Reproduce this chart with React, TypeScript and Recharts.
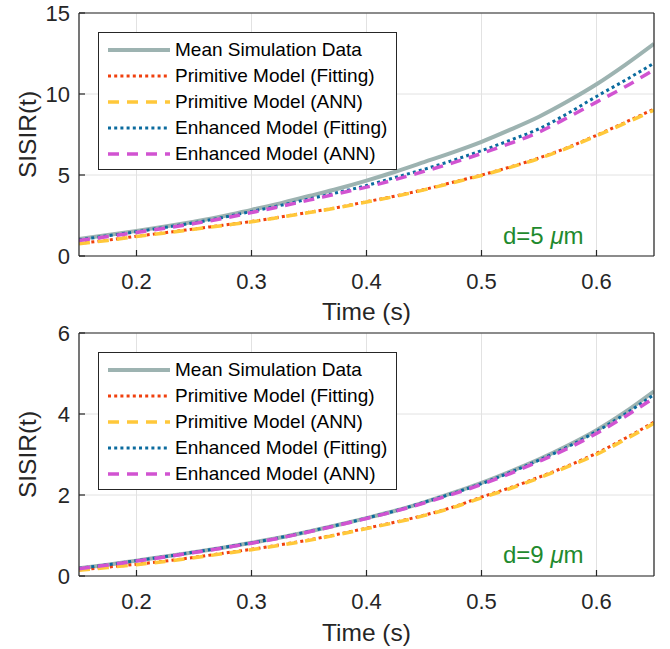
import React from 'react';
import { LineChart, Line, XAxis, YAxis, CartesianGrid, Legend } from 'recharts';

// time axis (s)
const TIME = [0.15, 0.175, 0.2, 0.225, 0.25, 0.275, 0.3, 0.325, 0.35, 0.375, 0.4,
  0.425, 0.45, 0.475, 0.5, 0.525, 0.55, 0.575, 0.6, 0.625, 0.65];

// d = 5 um
const MEAN_D5 = [1.05, 1.3, 1.55, 1.82, 2.12, 2.45, 2.85, 3.25, 3.7, 4.15, 4.65, 5.2, 5.8, 6.4, 7.05, 7.8, 8.6, 9.55, 10.6, 11.8, 13.1];
const PRIM_FIT_D5 = [0.78, 0.98, 1.22, 1.44, 1.67, 1.9, 2.13, 2.41, 2.7, 3.0, 3.35, 3.7, 4.1, 4.55, 5.0, 5.5, 6.05, 6.7, 7.45, 8.25, 9.07];
const PRIM_ANN_D5 = [0.76, 0.96, 1.2, 1.42, 1.65, 1.88, 2.11, 2.39, 2.68, 2.98, 3.33, 3.68, 4.08, 4.52, 4.97, 5.47, 6.02, 6.67, 7.42, 8.2, 9.0];
const ENH_FIT_D5 = [1.0, 1.25, 1.5, 1.77, 2.05, 2.38, 2.75, 3.12, 3.52, 3.92, 4.35, 4.85, 5.35, 5.9, 6.5, 7.15, 7.85, 8.8, 9.85, 10.85, 11.9];
const ENH_ANN_D5 = [0.95, 1.2, 1.45, 1.72, 2.0, 2.32, 2.68, 3.05, 3.45, 3.85, 4.25, 4.72, 5.22, 5.75, 6.33, 6.95, 7.65, 8.55, 9.5, 10.45, 11.5];

// d = 9 um
const MEAN_D9 = [0.19, 0.28, 0.38, 0.48, 0.59, 0.7, 0.82, 0.95, 1.1, 1.26, 1.43, 1.61, 1.82, 2.05, 2.3, 2.58, 2.88, 3.22, 3.6, 4.05, 4.56];
const PRIM_FIT_D9 = [0.15, 0.22, 0.29, 0.37, 0.46, 0.56, 0.66, 0.77, 0.89, 1.03, 1.18, 1.33, 1.5, 1.7, 1.95, 2.18, 2.44, 2.72, 3.03, 3.4, 3.8];
const PRIM_ANN_D9 = [0.14, 0.21, 0.28, 0.36, 0.45, 0.55, 0.65, 0.76, 0.88, 1.02, 1.17, 1.32, 1.49, 1.69, 1.93, 2.16, 2.42, 2.7, 3.0, 3.37, 3.77];
const ENH_FIT_D9 = [0.19, 0.28, 0.38, 0.48, 0.59, 0.7, 0.82, 0.95, 1.1, 1.26, 1.43, 1.61, 1.82, 2.04, 2.28, 2.56, 2.86, 3.19, 3.57, 4.0, 4.48];
const ENH_ANN_D9 = [0.18, 0.27, 0.37, 0.47, 0.58, 0.69, 0.81, 0.94, 1.09, 1.25, 1.42, 1.6, 1.8, 2.02, 2.26, 2.53, 2.83, 3.15, 3.52, 3.94, 4.4];

const X_TICKS = [0.2, 0.3, 0.4, 0.5, 0.6];
const Y_TICKS_D5 = [0, 5, 10, 15];
const Y_TICKS_D9 = [0, 2, 4, 6];

/* draw order = legend order */
const SERIES = [
  { key: 'mean', name: 'Mean Simulation Data', color: '#9db3b1', width: 4, dash: undefined },
  { key: 'primFit', name: 'Primitive Model (Fitting)', color: '#f0400e', width: 3, dash: '3 3.2' },
  { key: 'primAnn', name: 'Primitive Model (ANN)', color: '#ffc83a', width: 3.5, dash: '11 8' },
  { key: 'enhFit', name: 'Enhanced Model (Fitting)', color: '#0b6b9e', width: 3, dash: '3 3.2' },
  { key: 'enhAnn', name: 'Enhanced Model (ANN)', color: '#d153d1', width: 3.5, dash: '11 8' },
];

const AX = '#262626';
const FONT = '"Liberation Sans", Arial, Helvetica, sans-serif';
const TICK_FS = 22;

function buildRows(mean: number[], pf: number[], pa: number[], ef: number[], ea: number[]) {
  return TIME.map((t, i) => ({ t, mean: mean[i], primFit: pf[i], primAnn: pa[i], enhFit: ef[i], enhAnn: ea[i] }));
}

const ROWS_D5 = buildRows(MEAN_D5, PRIM_FIT_D5, PRIM_ANN_D5, ENH_FIT_D5, ENH_ANN_D5);
const ROWS_D9 = buildRows(MEAN_D9, PRIM_FIT_D9, PRIM_ANN_D9, ENH_FIT_D9, ENH_ANN_D9);

// tick texts drawn by hand so the size sticks
const XTick = (p: any) => (
  <text x={p.x} y={p.y} dy="0.71em" textAnchor="middle" fill={AX} fontSize={TICK_FS}>
    {String(p.payload.value)}
  </text>
);
const YTick = (p: any) => (
  <text x={p.x} y={p.y} dy="0.355em" textAnchor="end" fill={AX} fontSize={TICK_FS}>
    {String(p.payload.value)}
  </text>
);

function LegendBox() {
  return (
    <div style={{
      width: 297, height: 136, border: `1.5px solid ${AX}`, background: '#fff',
      position: 'relative', fontFamily: FONT,
    }}>
      {SERIES.map((s, i) => (
        <div key={s.key} style={{ position: 'absolute', left: 0, top: 4 + i * 26, height: 26, display: 'flex', alignItems: 'center' }}>
          <svg width={76} height={26} style={{ display: 'block' }}>
            <line x1={9} x2={71} y1={13} y2={13} stroke={s.color} strokeWidth={s.width} strokeDasharray={s.dash} />
          </svg>
          <span style={{ fontSize: 19, color: '#000', whiteSpace: 'nowrap' }}>{s.name}</span>
        </div>
      ))}
    </div>
  );
}

interface PanelProps {
  rows: typeof ROWS_D5;
  yTicks: number[];
  height: number;
  marginTop: number;
  xAxisHeight: number;
  xLabelDy: number;
  legendTop: number;
}

function Panel({ rows, yTicks, height, marginTop, xAxisHeight, xLabelDy, legendTop }: PanelProps) {
  const yMax = yTicks[yTicks.length - 1];
  return (
    <LineChart width={670} height={height} data={rows} margin={{ top: marginTop, right: 15, left: 0, bottom: 0 }}>
      <CartesianGrid stroke="#e2e2e2" strokeWidth={1} />
      <XAxis
        dataKey="t" type="number" domain={[0.15, 0.65]} ticks={X_TICKS} allowDataOverflow
        height={xAxisHeight} stroke={AX} strokeWidth={1.2} tickSize={-6} tickMargin={23.5}
        tick={XTick}
        label={{ value: 'Time (s)', position: 'center', dy: xLabelDy, fill: AX, fontSize: 24.5 }}
      />
      <XAxis
        xAxisId="top" orientation="top" type="number" domain={[0.15, 0.65]} ticks={X_TICKS}
        height={1} stroke={AX} strokeWidth={1.2} tickSize={-6} tick={false}
      />
      <YAxis
        type="number" domain={[0, yMax]} ticks={yTicks} allowDataOverflow
        width={79} stroke={AX} strokeWidth={1.2} tickSize={-6} tickMargin={15} tick={YTick}
        label={{ value: 'SISIR(t)', angle: -90, position: 'center', dx: -12.5, fill: AX, fontSize: 24.5 }}
      />
      <YAxis
        yAxisId="right" orientation="right" type="number" domain={[0, yMax]} ticks={yTicks}
        width={1} stroke={AX} strokeWidth={1.2} tickSize={-6} tick={false}
      />
      <Legend
        layout="horizontal" verticalAlign="middle" align="center"
        wrapperStyle={{ left: 98, top: legendTop, width: 300, height: 139 }}
        content={() => <LegendBox />}
      />
      {SERIES.map((s) => (
        <Line
          key={s.key} type="monotone" dataKey={s.key} name={s.name}
          stroke={s.color} strokeWidth={s.width} strokeDasharray={s.dash}
          dot={false} activeDot={false} isAnimationActive={false}
        />
      ))}
    </LineChart>
  );
}

const NOTE_STYLE: React.CSSProperties = {
  position: 'absolute', left: 503, fontSize: 24, lineHeight: 1, color: '#1f8a2e',
  fontFamily: FONT, whiteSpace: 'nowrap',
};

export default function App() {
  return (
    <div style={{ position: 'absolute', left: 0, top: 0, width: 670, height: 649, background: '#fff', fontFamily: FONT }}>
      <div style={{ position: 'absolute', left: 0, top: 0 }}>
        <Panel rows={ROWS_D5} yTicks={Y_TICKS_D5} height={330} marginTop={12} xAxisHeight={74} xLabelDy={18.5} legendTop={32} />
      </div>
      <div style={{ position: 'absolute', left: 0, top: 322 }}>
        <Panel rows={ROWS_D9} yTicks={Y_TICKS_D9} height={327} marginTop={10} xAxisHeight={73} xLabelDy={19.5} legendTop={30} />
      </div>
      <div style={{ ...NOTE_STYLE, top: 224 }}>d=5 <i>μ</i>m</div>
      <div style={{ ...NOTE_STYLE, top: 543 }}>d=9 <i>μ</i>m</div>
    </div>
  );
}
